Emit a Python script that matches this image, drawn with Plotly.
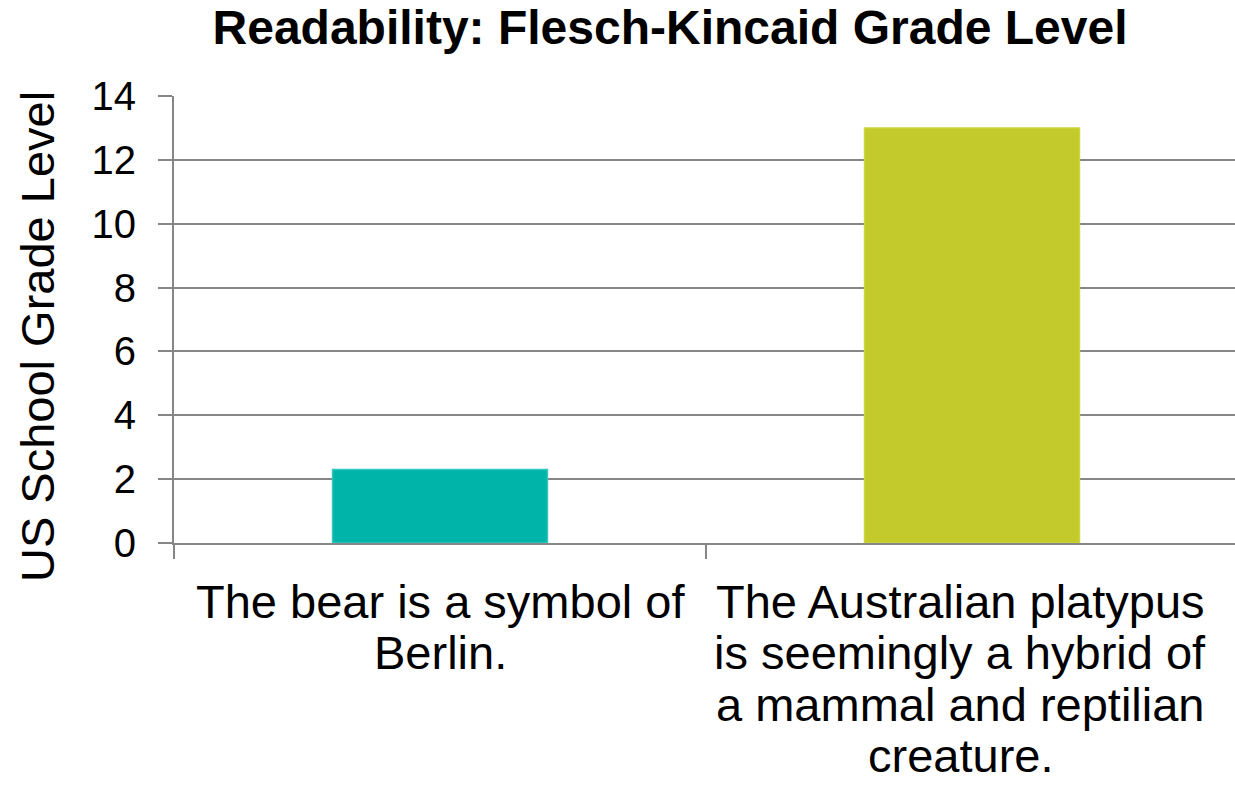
import plotly.graph_objects as go

category_lines = [
    ["The bear is a symbol of", "Berlin."],
    ["The Australian platypus", "is seemingly a hybrid of", "a mammal and reptilian", "creature."],
]
categories = [" ".join(lines) for lines in category_lines]
grade_levels = [2.3, 13.0]
bar_colors = ["#00B4AA", "#C3CB2C"]
bar_lines = ["#33C6BE", "#CBD63A"]
y_ticks = [0, 2, 4, 6, 8, 10, 12, 14]

FONT = "Liberation Sans, Arial, sans-serif"
GRID = "#868686"
label_xshift = [0, -12]

fig = go.Figure(
    go.Bar(
        x=categories,
        y=grade_levels,
        width=0.404,
        marker=dict(color=bar_colors, line=dict(color=bar_lines, width=1.5)),
        hoverinfo="y",
    )
)

fig.update_layout(
    width=1235,
    height=786,
    margin=dict(l=174, r=0, t=96, b=243),
    paper_bgcolor="white",
    plot_bgcolor="white",
    showlegend=False,
    font=dict(family=FONT, size=47, color="black"),
    title=dict(
        text="<b>Readability: Flesch-Kincaid Grade Level</b>",
        x=670 / 1235,
        xref="container",
        xanchor="center",
        y=1 - 27.5 / 786,
        yref="container",
        yanchor="middle",
        font=dict(family=FONT, size=48, color="black"),
    ),
)

fig.update_xaxes(
    type="category",
    range=[-0.5, 1.5 - 3 / 532],
    showline=True,
    linecolor=GRID,
    linewidth=2,
    ticks="outside",
    tickson="boundaries",
    ticklen=14,
    tickwidth=2,
    tickcolor=GRID,
    showgrid=False,
    showticklabels=False,
    automargin=False,
)

fig.update_yaxes(
    range=[0, 14],
    tickvals=y_ticks,
    showline=True,
    linecolor=GRID,
    linewidth=2,
    ticks="outside",
    ticklen=14,
    tickwidth=2,
    tickcolor=GRID,
    showgrid=True,
    gridcolor=GRID,
    gridwidth=1.5,
    zeroline=False,
    ticklabelstandoff=14,
    tickfont=dict(family=FONT, size=40, color="black"),
    automargin=False,
)

# multi-line category labels (one annotation per line, tight line spacing)
for cat, lines, dx in zip(categories, category_lines, label_xshift):
    for i, line in enumerate(lines):
        fig.add_annotation(
            x=cat,
            y=0,
            xref="x",
            yref="y",
            text=line,
            showarrow=False,
            xanchor="center",
            yanchor="middle",
            xshift=dx,
            yshift=-58 - 51.5 * i,
            font=dict(family=FONT, size=47, color="black"),
        )

# y-axis title
fig.add_annotation(
    x=0,
    y=(543 - 337) / 447,
    xref="paper",
    yref="paper",
    text="US School Grade Level",
    textangle=-90,
    showarrow=False,
    xanchor="center",
    yanchor="middle",
    xshift=37 - 174,
    font=dict(family=FONT, size=47, color="black"),
)

fig.write_html(
    "out.html",
    config={"displayModeBar": False},
    post_script="document.body.style.margin='0';document.body.style.overflow='hidden';",
)
